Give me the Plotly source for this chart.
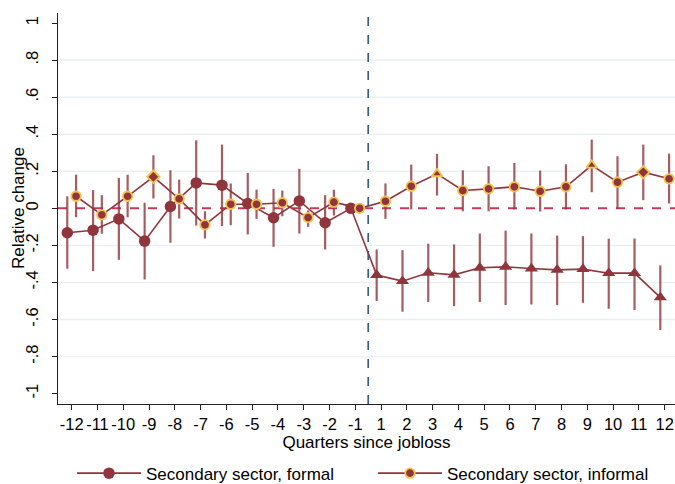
import plotly.graph_objects as go

# Event-time quarters relative to job loss (quarter 0 omitted)
quarters = [-12, -11, -10, -9, -8, -7, -6, -5, -4, -3, -2, -1,
            1, 2, 3, 4, 5, 6, 7, 8, 9, 10, 11, 12]

# Secondary sector, formal: point estimates and 95% CI bounds
formal_est = [-0.132, -0.118, -0.057, -0.177, 0.010, 0.137, 0.125, 0.026, -0.051, 0.040, -0.078, 0.0,
              -0.360, -0.393, -0.348, -0.359, -0.321, -0.316, -0.325, -0.332, -0.328, -0.350, -0.350, -0.481]
formal_lo = [-0.326, -0.339, -0.278, -0.384, -0.186, -0.093, -0.096, -0.141, -0.208, -0.136, -0.222, 0.0,
             -0.500, -0.558, -0.506, -0.528, -0.506, -0.522, -0.519, -0.522, -0.510, -0.542, -0.549, -0.657]
formal_hi = [0.065, 0.098, 0.164, 0.030, 0.205, 0.367, 0.344, 0.191, 0.105, 0.213, 0.071, 0.0,
             -0.222, -0.226, -0.191, -0.195, -0.136, -0.120, -0.136, -0.147, -0.150, -0.164, -0.163, -0.308]

# Secondary sector, informal: point estimates and 95% CI bounds
informal_est = [0.065, -0.035, 0.065, 0.170, 0.051, -0.089, 0.022, 0.022, 0.030, -0.050, 0.033, 0.0,
                0.038, 0.119, 0.186, 0.096, 0.105, 0.116, 0.092, 0.116, 0.232, 0.141, 0.195, 0.159]
informal_lo = [-0.048, -0.137, -0.048, 0.053, -0.055, -0.163, -0.091, -0.057, -0.043, -0.100, -0.039, 0.0,
               -0.057, -0.006, 0.069, -0.016, -0.016, -0.006, -0.017, -0.006, 0.087, -0.003, 0.044, 0.026]
informal_hi = [0.182, 0.071, 0.181, 0.286, 0.155, -0.016, 0.134, 0.101, 0.096, -0.012, 0.100, 0.0,
               0.134, 0.236, 0.294, 0.205, 0.227, 0.245, 0.204, 0.238, 0.371, 0.281, 0.344, 0.295]

# Y-axis ticks
y_tickvals = [-1, -0.8, -0.6, -0.4, -0.2, 0, 0.2, 0.4, 0.6, 0.8, 1]
y_ticktext = ["-1", "-.8", "-.6", "-.4", "-.2", "0", ".2", ".4", ".6", ".8", "1"]
y_gridvals = [-0.8, -0.6, -0.4, -0.2, 0.2, 0.4, 0.6, 0.8]

# Marker shapes per point (style)
formal_symbols = ["circle"] * 12 + ["triangle-up"] * 12
informal_symbols = ["circle", "circle", "circle", "diamond", "circle", "circle",
                    "circle", "circle", "circle", "circle", "circle", "circle",
                    "circle", "circle", "triangle-up", "circle", "circle", "circle",
                    "circle", "circle", "triangle-up", "circle", "diamond", "circle"]

CRAN = "#90353B"
CI_COL = "rgba(144,53,59,0.8)"
GOLD = "#F4C24F"
FONT = "Liberation Sans, Arial, sans-serif"

idx = list(range(len(quarters)))
shift = 0.17
x_formal = [i - shift for i in idx]
x_informal = [i + shift for i in idx]
break_pos = quarters.index(-1) + 0.5


def err(est, lo, hi):
    plus = [h - e for e, h in zip(est, hi)]
    minus = [e - l for e, l in zip(est, lo)]
    return dict(type="data", array=plus, arrayminus=minus, visible=True,
                color=CI_COL, thickness=2.2, width=0)


fig = go.Figure()

fig.add_trace(go.Scatter(
    x=x_formal, y=formal_est, mode="lines+markers",
    name="Secondary sector, formal",
    line=dict(color=CRAN, width=1.6),
    marker=dict(symbol=formal_symbols, size=11.5, color=CRAN, line=dict(width=0)),
    error_y=err(formal_est, formal_lo, formal_hi),
))

fig.add_trace(go.Scatter(
    x=x_informal, y=informal_est, mode="lines+markers",
    name="Secondary sector, informal",
    line=dict(color=CRAN, width=1.6),
    marker=dict(symbol=informal_symbols, size=9.5, color=CRAN,
                line=dict(width=1.8, color=GOLD)),
    error_y=err(informal_est, informal_lo, informal_hi),
))

# Light horizontal grid
for g in y_gridvals:
    fig.add_shape(type="line", xref="paper", yref="y", x0=0, x1=1, y0=g, y1=g,
                  line=dict(color="#E9EFF2", width=1.5), layer="below")

# Zero reference line and job-loss marker
fig.add_shape(type="line", xref="paper", yref="y", x0=0, x1=1, y0=0, y1=0,
              line=dict(color="#C6385B", width=2, dash="dash"), layer="below")
fig.add_shape(type="line", xref="x", yref="paper", x0=break_pos, x1=break_pos, y0=0, y1=1,
              line=dict(color="#34598A", width=1.6, dash="dash"), layer="below")

# Y-axis title
fig.add_annotation(text="Relative change", xref="paper", yref="paper",
                   x=-0.064, y=0.5, xanchor="center", yanchor="middle",
                   textangle=-90, showarrow=False, font=dict(size=17))

fig.update_layout(
    width=675, height=484,
    margin=dict(l=57.5, r=0, t=13.3, b=79.7, autoexpand=False),
    paper_bgcolor="white", plot_bgcolor="white",
    font=dict(family=FONT, size=17, color="black"),
    showlegend=True,
    legend=dict(orientation="h", x=0.0227, xanchor="left", y=-0.178, yanchor="middle",
                font=dict(size=17), itemwidth=64, entrywidth=222,
                bgcolor="rgba(0,0,0,0)"),
)

fig.update_xaxes(
    range=[-0.53, 23.4], tickmode="array", tickvals=idx,
    ticktext=[str(q) for q in quarters], tickangle=0,
    showgrid=False, zeroline=False, showline=True, linecolor="#222", linewidth=1.3,
    ticks="outside", ticklen=5, tickcolor="#222", tickfont=dict(size=16.5),
    title=dict(text="Quarters since jobloss", font=dict(size=17), standoff=0),
)
fig.update_yaxes(
    range=[-1.056, 1.054], tickmode="array", tickvals=y_tickvals, ticktext=y_ticktext,
    tickangle=-90, showgrid=False, zeroline=False, showline=True, linecolor="#222",
    linewidth=1.3, ticks="outside", ticklen=5, tickcolor="#222", tickfont=dict(size=16.5),
    ticklabelstandoff=7,
)

fig.write_html("out.html")
